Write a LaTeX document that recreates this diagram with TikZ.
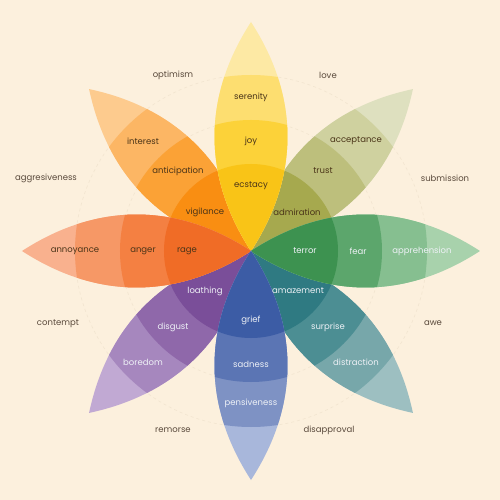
\documentclass[tikz,border=0pt]{standalone}
\usepackage{fontspec}
\setmainfont{Poppins}
% background and text
\definecolor{paper}{HTML}{FCF0DD}
\definecolor{ink}{HTML}{5A4A3C}
\definecolor{inkdark}{HTML}{4A3418}
\definecolor{inklight}{HTML}{EEF1F6}
\definecolor{ringline}{HTML}{F2E5D0}
% yellow (joy)
\definecolor{yelA}{HTML}{F9C417}
\definecolor{yelB}{HTML}{FCD239}
\definecolor{yelC}{HTML}{FDDE70}
\definecolor{yelD}{HTML}{FDE9A4}
% orange (anticipation)
\definecolor{oraA}{HTML}{F98E12}
\definecolor{oraB}{HTML}{FBA236}
\definecolor{oraC}{HTML}{FCB664}
\definecolor{oraD}{HTML}{FDCB8E}
% red (anger)
\definecolor{redA}{HTML}{F06C26}
\definecolor{redB}{HTML}{F48042}
\definecolor{redC}{HTML}{F69866}
\definecolor{redD}{HTML}{F9B18E}
% olive (trust)
\definecolor{oliA}{HTML}{A6A94E}
\definecolor{oliB}{HTML}{BDBF7C}
\definecolor{oliC}{HTML}{CFD19F}
\definecolor{oliD}{HTML}{DEE0BF}
% green (fear)
\definecolor{grnA}{HTML}{3D9250}
\definecolor{grnB}{HTML}{5CA66C}
\definecolor{grnC}{HTML}{86BF90}
\definecolor{grnD}{HTML}{A8D2AC}
% teal (surprise)
\definecolor{tealA}{HTML}{2F7A82}
\definecolor{tealB}{HTML}{4C8E93}
\definecolor{tealC}{HTML}{77A7AA}
\definecolor{tealD}{HTML}{9DBFC1}
% blue (sadness)
\definecolor{bluA}{HTML}{3C5CA5}
\definecolor{bluB}{HTML}{5B75B4}
\definecolor{bluC}{HTML}{7E92C4}
\definecolor{bluD}{HTML}{A8B7DB}
% purple (disgust)
\definecolor{purA}{HTML}{7A4E99}
\definecolor{purB}{HTML}{8F68AA}
\definecolor{purC}{HTML}{A687BE}
\definecolor{purD}{HTML}{C1A9D3}
\tikzset{
  emo/.style={font=\fontsize{8.5}{10}\selectfont, text=inkdark, inner sep=1pt},
  emolight/.style={emo, text=inklight},
  outer/.style={font=\fontsize{8.5}{10}\selectfont, text=ink, inner sep=1pt},
}
\begin{document}
\begin{tikzpicture}[x=1pt,y=1pt]
% page
\fill[paper] (-251,-249) rectangle (249,251);
\useasboundingbox (-251,-249) rectangle (249,251);
% faint rings
\draw[ringline, dashed, line width=0.6pt] (0,0) circle (176);
\draw[ringline, dashed, line width=0.6pt] (0,0) circle (130);
% petals: diagonals first, then the four upright ones on top
\foreach \ang/\ca/\cb/\cc/\cd in {135/oraA/oraB/oraC/oraD, 45/oliA/oliB/oliC/oliD,
    225/purA/purB/purC/purD, 315/tealA/tealB/tealC/tealD,
    90/yelA/yelB/yelC/yelD, 180/redA/redB/redC/redD,
    0/grnA/grnB/grnC/grnD, 270/bluA/bluB/bluC/bluD}{
  \begin{scope}[rotate=\ang]
    \clip (0,0) to[bend left=33] (229,0) to[bend left=33] (0,0) -- cycle;
    \fill[\cd] (0,0) circle (229);
    \fill[\cc] (0,0) circle (176);
    \fill[\cb] (0,0) circle (131);
    \fill[\ca] (0,0) circle (87);
  \end{scope}
}
% labels on the petals
\node[emo] (serenity) at (0,154) {serenity};
\node[emo] (joy) at (0,110) {joy};
\node[emo] (ecstacy) at (0,65) {ecstacy};
\node[emo] (interest) at (-108,110) {interest};
\node[emo] (anticipation) at (-73,80) {anticipation};
\node[emo] (vigilance) at (-46,39) {vigilance};
\node[emo] (acceptance) at (105,110) {acceptance};
\node[emo] (trust) at (72,80) {trust};
\node[emo] (admiration) at (46,39) {admiration};
\node[emo] (annoyance) at (-176,0) {annoyance};
\node[emo] (anger) at (-108,0) {anger};
\node[emo] (rage) at (-64,0) {rage};
\node[emolight] (terror) at (54,0) {terror};
\node[emolight] (fear) at (107,0) {fear};
\node[emolight] (apprehension) at (171,0) {apprehension};
\node[emolight] (loathing) at (-46,-40) {loathing};
\node[emolight] (disgust) at (-78,-76) {disgust};
\node[emolight] (boredom) at (-108,-111) {boredom};
\node[emolight] (amazement) at (47,-40) {amazement};
\node[emolight] (surprise) at (77,-76) {surprise};
\node[emolight] (distraction) at (105,-111) {distraction};
\node[emolight] (grief) at (0,-69) {grief};
\node[emolight] (sadness) at (0,-113) {sadness};
\node[emolight] (pensiveness) at (0,-152) {pensiveness};
% dyads between the petals
\node[outer] (optimism) at (-78,176) {optimism};
\node[outer] (love) at (77,176) {love};
\node[outer] (submission) at (194,73) {submission};
\node[outer] (awe) at (182,-72) {awe};
\node[outer] (disapproval) at (78,-179) {disapproval};
\node[outer] (remorse) at (-78,-179) {remorse};
\node[outer] (contempt) at (-193,-73) {contempt};
\node[outer] (aggresiveness) at (-205,73) {aggresiveness};
\end{tikzpicture}
\end{document}
